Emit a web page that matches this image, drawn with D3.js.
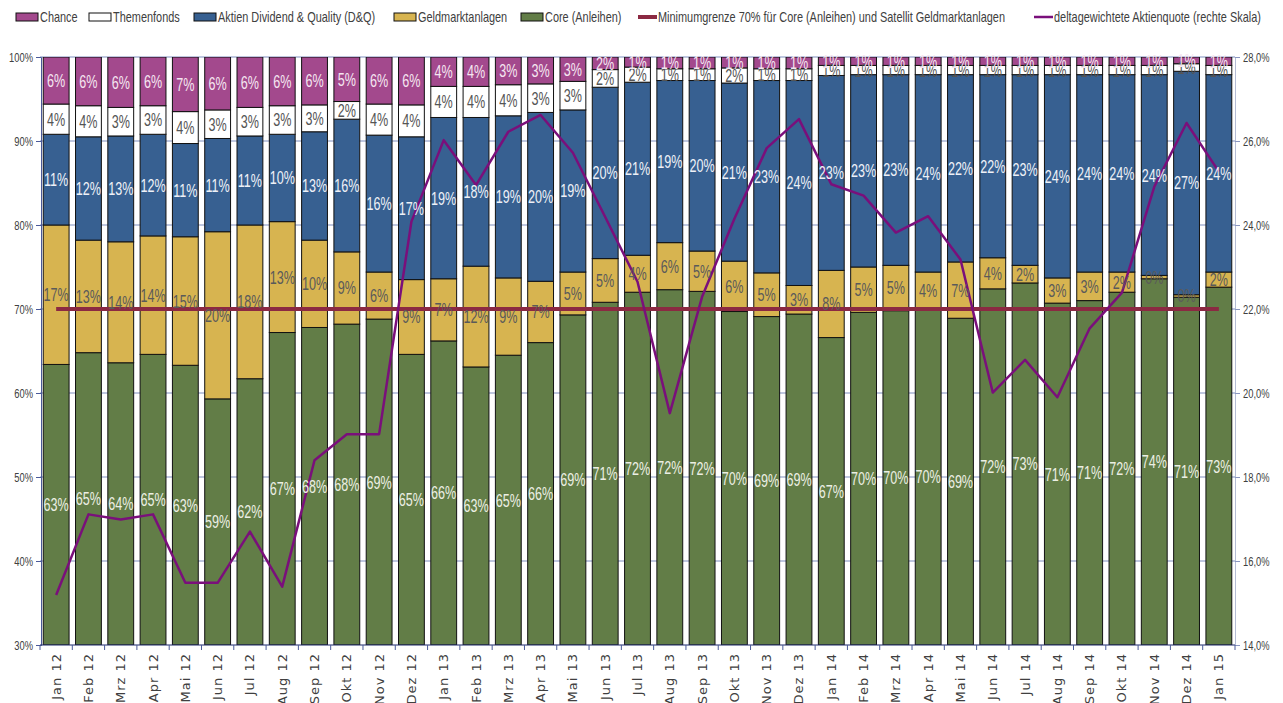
<!DOCTYPE html>
<html>
<head>
<meta charset="utf-8">
<script src="https://cdn.jsdelivr.net/npm/d3@7"></script>
<style>
  body { margin: 0; background: #fff; }
  text { font-family: "Liberation Sans", Arial, sans-serif; }
</style>
</head>
<body>
<div id="chart"></div>
<script>
// Monate (Kategorien)
var months = ["Jan 12","Feb 12","Mrz 12","Apr 12","Mai 12","Jun 12","Jul 12","Aug 12","Sep 12","Okt 12","Nov 12","Dez 12",
              "Jan 13","Feb 13","Mrz 13","Apr 13","Mai 13","Jun 13","Jul 13","Aug 13","Sep 13","Okt 13","Nov 13","Dez 13",
              "Jan 14","Feb 14","Mrz 14","Apr 14","Mai 14","Jun 14","Jul 14","Aug 14","Sep 14","Okt 14","Nov 14","Dez 14",
              "Jan 15"];

// Anteile in %
var core   = [63.4,64.8,63.6,64.6,63.3,59.3,61.7,67.2,67.8,68.2,68.8,64.6,
              66.2,63.1,64.5,66.0,69.3,70.8,72.0,72.3,72.1,69.7,69.1,69.4,
              66.6,69.6,69.8,70.0,68.9,72.4,73.1,70.7,71.0,72.0,73.6,71.4,
              72.6];
var geld   = [16.6,13.4,14.4,14.1,15.3,19.9,18.3,13.2,10.4,8.6,5.6,8.9,
              7.4,12.0,9.2,7.3,5.1,5.2,4.4,5.6,4.8,6.0,5.2,3.4,
              8.0,5.4,5.4,4.4,6.7,3.7,2.1,3.0,3.4,2.4,0.4,0.3,
              1.8];
var dq     = [10.8,12.3,12.6,12.1,11.1,11.1,10.6,10.4,12.9,15.8,16.3,17.0,
              19.2,17.7,19.3,20.1,19.3,20.4,20.6,19.3,20.3,21.2,22.9,24.4,
              23.2,22.9,22.7,23.5,22.3,21.8,22.7,24.2,23.5,23.5,23.9,26.6,
              23.5];
var themen = [3.6,3.7,3.4,3.4,3.8,3.4,3.4,3.4,3.2,2.1,3.7,3.8,
              3.7,3.7,3.7,3.4,3.4,2.1,1.8,1.4,1.4,1.8,1.4,1.4,
              1.2,1.1,1.1,1.1,1.1,1.1,1.1,1.1,1.1,1.1,1.1,0.9,
              1.1];
var chance = [5.6,5.8,6.0,5.8,6.5,6.3,6.0,5.8,5.7,5.3,5.6,5.7,
              3.5,3.5,3.3,3.2,2.9,1.5,1.2,1.4,1.4,1.3,1.4,1.4,
              1.0,1.0,1.0,1.0,1.0,1.0,1.0,1.0,1.0,1.0,1.0,0.8,
              1.0];

// deltagewichtete Aktienquote (rechte Skala, %)
var aktienquote = [15.19,17.11,16.99,17.11,15.48,15.48,16.70,15.39,18.40,19.02,19.02,24.08,
                   26.02,24.95,26.22,26.62,25.72,24.19,22.65,19.52,22.29,24.15,25.83,26.52,
                   24.97,24.70,23.82,24.21,23.18,20.01,20.79,19.90,21.54,22.39,24.91,26.43,
                   25.27];
var minimum = 70;

var leftTicks  = [30,40,50,60,70,80,90,100];
var rightTicks = [14,16,18,20,22,24,26,28];

var series = [
  {key: "core",   name: "Core (Anleihen)",                 color: "#627d47", label: "#ecefe4"},
  {key: "geld",   name: "Geldmarktanlagen",                color: "#d7b450", label: "#5a5a5a"},
  {key: "dq",     name: "Aktien Dividend & Quality (D&Q)", color: "#376091", label: "#eef1f7"},
  {key: "themen", name: "Themenfonds",                     color: "#ffffff", label: "#555555"},
  {key: "chance", name: "Chance",                          color: "#a3498d", label: "#f5e6f1"}
];

var svgWidth = 1283, svgHeight = 703;
var margin = {top: 57, right: 48, bottom: 58, left: 40};
var plotRight = svgWidth - margin.right;
var plotBottom = svgHeight - margin.bottom;
var narrow = 0.72;   // horizontal squeeze to imitate the condensed font

var table = months.map(function(m, i) {
  return {month: m, core: core[i], geld: geld[i], dq: dq[i], themen: themen[i], chance: chance[i]};
});

var svg = d3.select("#chart").append("svg")
  .attr("width", svgWidth).attr("height", svgHeight);

var x = d3.scaleBand().domain(months).range([margin.left, plotRight]).paddingInner(0.2).paddingOuter(0.1);
var y = d3.scaleLinear().domain([30, 100]).range([plotBottom, margin.top]);
var yR = d3.scaleLinear().domain([14, 28]).range([plotBottom, margin.top]);
var bw = x.bandwidth();

svg.append("clipPath").attr("id", "plot")
  .append("rect").attr("x", margin.left).attr("y", margin.top)
  .attr("width", plotRight - margin.left).attr("height", plotBottom - margin.top);

// gridlines
svg.append("g").selectAll("line").data(leftTicks.slice(1)).enter().append("line")
  .attr("x1", margin.left).attr("x2", plotRight)
  .attr("y1", d => y(d)).attr("y2", d => y(d))
  .attr("stroke", "#7f8fbf").attr("stroke-width", 1);

// stacked bars
var stacked = d3.stack().keys(series.map(s => s.key))(table);

var barG = svg.append("g").attr("clip-path", "url(#plot)");
stacked.forEach(function(layer, li) {
  barG.append("g").selectAll("rect").data(layer).enter().append("rect")
    .attr("x", d => x(d.data.month))
    .attr("width", bw)
    .attr("y", d => y(Math.min(d[1], 100)))
    .attr("height", d => Math.max(0, y(Math.max(d[0], 30)) - y(Math.min(d[1], 100))))
    .attr("fill", series[li].color)
    .attr("stroke", "#111")
    .attr("stroke-width", 1);
});

// left axis
var yAxis = svg.append("g").attr("transform", `translate(${margin.left + 1},0)`)
  .call(d3.axisLeft(y).tickValues(leftTicks).tickFormat(d => d + "%").tickSize(5).tickPadding(3));
yAxis.select(".domain").attr("stroke", "#4a5a9a");
yAxis.selectAll(".tick line").attr("stroke", "#4a5a9a");
yAxis.selectAll("text").attr("font-size", 13).attr("fill", "#404040")
  .attr("x", -8 / narrow).attr("transform", `scale(${narrow},1)`);

// right axis
var yAxisR = svg.append("g").attr("transform", `translate(${plotRight},0)`)
  .call(d3.axisRight(yR).tickValues(rightTicks)
    .tickFormat(d => d3.format(".1f")(d).replace(".", ",") + "%").tickSize(5).tickPadding(3));
yAxisR.select(".domain").attr("stroke", "#b4bcd4");
yAxisR.selectAll(".tick line").attr("stroke", "#8a96c0");
yAxisR.selectAll("text").attr("font-size", 13).attr("fill", "#404040")
  .attr("x", 8 / narrow).attr("transform", `scale(${narrow},1)`);

// x axis line + ticks between categories
var gapHalf = x.step() * x.paddingInner() / 2;
var bounds = months.map(m => x(m) - gapHalf).concat([x(months[months.length - 1]) + bw + gapHalf]);
svg.append("line").attr("x1", margin.left).attr("x2", plotRight).attr("y1", plotBottom).attr("y2", plotBottom)
  .attr("stroke", "#1f2a6b").attr("stroke-width", 1.2);
svg.append("g").selectAll("line").data(bounds).enter().append("line")
  .attr("x1", d => d).attr("x2", d => d).attr("y1", plotBottom).attr("y2", plotBottom + 5)
  .attr("stroke", "#4a5a9a");
svg.append("g").selectAll("text").data(months).enter().append("text")
  .attr("transform", d => `translate(${x(d) + bw / 2 + 4.5},${plotBottom + 8}) rotate(-90)`)
  .attr("text-anchor", "end")
  .style("font-family", "'DejaVu Sans', sans-serif")
  .attr("font-size", 13)
  .attr("letter-spacing", 1)
  .attr("fill", "#404040")
  .text(d => d);

// Minimumgrenze
var minLine = d3.line().x(d => x(d) + bw / 2).y(() => y(minimum));
svg.append("path").datum(months).attr("d", minLine)
  .attr("fill", "none").attr("stroke", "#8b2942").attr("stroke-width", 4);

// Aktienquote
var qLine = d3.line().x((d, i) => x(months[i]) + bw / 2).y(d => yR(d));
svg.append("path").datum(aktienquote).attr("d", qLine)
  .attr("fill", "none").attr("stroke", "#7a0f7b").attr("stroke-width", 2.5).attr("stroke-linejoin", "round");

// data labels
stacked.forEach(function(layer, li) {
  svg.append("g").selectAll("text").data(layer).enter().append("text")
    .attr("transform", d => `translate(${x(d.data.month) + bw / 2},${y((Math.max(d[0], 30) + Math.min(d[1], 100)) / 2)}) scale(0.7,1)`)
    .attr("dy", "0.36em")
    .attr("text-anchor", "middle")
    .attr("font-size", 18)
    .attr("fill", series[li].label)
    .text(d => Math.round(d[1] - d[0]) + "%");
});

// legend
var legendItems = [
  {name: "Chance", color: "#a3498d", type: "box", x: 16},
  {name: "Themenfonds", color: "#ffffff", type: "box", x: 89},
  {name: "Aktien Dividend & Quality (D&Q)", color: "#376091", type: "box", x: 194},
  {name: "Geldmarktanlagen", color: "#d7b450", type: "box", x: 394},
  {name: "Core (Anleihen)", color: "#627d47", type: "box", x: 521},
  {name: "Minimumgrenze 70% für Core (Anleihen) und Satellit Geldmarktanlagen", color: "#8b2942", type: "line", x: 638},
  {name: "deltagewichtete Aktienquote (rechte Skala)", color: "#7a0f7b", type: "line", x: 1034}
];
var lg = svg.append("g");
legendItems.forEach(function(it) {
  if (it.type === "box") {
    lg.append("rect").attr("x", it.x).attr("y", 13).attr("width", 22).attr("height", 8)
      .attr("fill", it.color).attr("stroke", "#111").attr("stroke-width", 1);
  } else {
    lg.append("line").attr("x1", it.x).attr("x2", it.x + 19).attr("y1", 17).attr("y2", 17)
      .attr("stroke", it.color).attr("stroke-width", it.color === "#8b2942" ? 4 : 2.5);
  }
  lg.append("text")
    .attr("transform", `translate(${it.x + (it.type === "box" ? 24 : 20)},17) scale(0.78,1)`)
    .attr("dy", "0.35em")
    .attr("font-size", 14).attr("fill", "#404040").text(it.name);
});
</script>
</body>
</html>
